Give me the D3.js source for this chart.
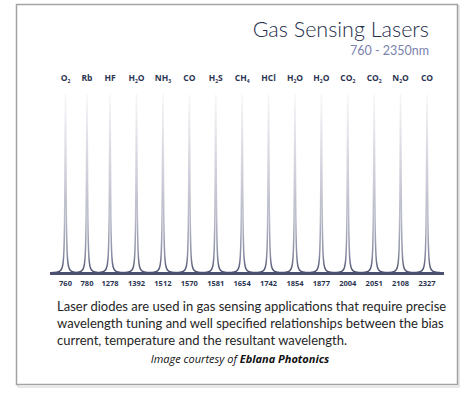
<!DOCTYPE html>
<meta charset="utf-8">
<style>
  body { margin: 0; background: #fff; }
  .gas { font-family: "Open Sans", sans-serif; font-weight: 700; font-size: 8.5px; fill: #2b3452; }
  .nm { font-family: "Open Sans", sans-serif; font-weight: 700; font-size: 7.5px; fill: #2b3452; }
  .title { font-family: Lato, sans-serif; font-weight: 300; font-size: 21.5px; fill: #252d4a; }
  .subtitle { font-family: Lato, sans-serif; font-weight: 400; font-size: 12.5px; fill: #7a82ad; }
  .para { font-family: Lato, sans-serif; font-size: 13px; fill: #262626; }
  .credit { font-family: "Open Sans", sans-serif; font-style: italic; font-size: 11px; fill: #111; }
</style>
<svg width="474" height="395"></svg>
<script src="https://d3js.org/d3.v7.min.js"></script>
<script>

  // chart data
  var gases = ["O2", "Rb", "HF", "H2O", "NH3", "CO", "H2S", "CH4", "HCl", "H2O", "H2O", "CO2", "CO2", "N2O", "CO"];
  var wavelengths = [760, 780, 1278, 1392, 1512, 1570, 1581, 1654, 1742, 1854, 1877, 2004, 2051, 2108, 2327];
  var peakHeights = [1, 1, 1, 1, 1, 1, 1, 1, 1, 1, 1, 1, 1, 1, 1];
  var title = "Gas Sensing Lasers";
  var subtitle = "760 - 2350nm";
  var paragraph = [
    "Laser diodes are used in gas sensing applications that require precise",
    "wavelength tuning and well specified relationships between the bias",
    "current, temperature and the resultant wavelength."
  ];

  var svg = d3.select("svg");

  // frame with a faint shadow
  svg.append("rect")
    .attr("x", 18).attr("y", 6).attr("width", 441).attr("height", 381)
    .attr("fill", "none").attr("stroke", "#e0e0e0").attr("stroke-width", 1.5);
  svg.append("rect")
    .attr("x", 16.5).attr("y", 4.5).attr("width", 441).attr("height", 380)
    .attr("fill", "#fff").attr("stroke", "#a3a3a3").attr("stroke-width", 1.5);

  // peaks are placed by index, the first few a bit tighter
  var x = d3.scaleLinear()
    .domain([0, 1, 2, 3, gases.length - 1])
    .range([65.5, 87, 110, 136.5, 427]);

  var y = d3.scaleLinear()
    .domain([0, 1])
    .range([273, 94]);

  // gradient for the peak strokes
  var grad = svg.append("defs").append("linearGradient")
    .attr("id", "peakGrad")
    .attr("gradientUnits", "userSpaceOnUse")
    .attr("x1", 0).attr("x2", 0).attr("y1", y(1)).attr("y2", y(0));
  grad.selectAll("stop")
    .data([[0, "#f8f8fa"], [0.3, "#dcdce4"], [0.7, "#b8bac8"], [0.9, "#8a8da3"], [1, "#454a68"]])
    .enter().append("stop")
    .attr("offset", d => d[0])
    .attr("stop-color", d => d[1]);

  // spectrum: narrow lorentzian line shape around each peak
  var gamma = 0.6;
  var xs = d3.range(50, 444.01, 0.05);
  var spectrum = xs.map(function (px) {
    var v = 0;
    peakHeights.forEach(function (h, i) {
      var dx = px - x(i);
      v = Math.max(v, h * gamma * gamma / (gamma * gamma + dx * dx));
    });
    return [px, v];
  });

  svg.append("path")
    .datum(spectrum)
    .attr("fill", "none")
    .attr("stroke", "url(#peakGrad)")
    .attr("stroke-width", 1.5)
    .attr("d", d3.line().x(d => d[0]).y(d => y(d[1])));

  // base line
  svg.append("line")
    .attr("x1", 50).attr("x2", 444)
    .attr("y1", y(0) + 0.5).attr("y2", y(0) + 0.5)
    .attr("stroke", "#4b5070").attr("stroke-width", 3);

  // gas labels with subscripted digits
  svg.append("g").selectAll("text")
    .data(gases)
    .enter().append("text")
    .attr("class", "gas")
    .attr("x", (d, i) => x(i))
    .attr("y", 81)
    .attr("text-anchor", "middle")
    .each(function (d) {
      var t = d3.select(this);
      d.match(/\d+|\D+/g).forEach(function (part) {
        var sp = t.append("tspan").text(part);
        if (/\d/.test(part)) {
          sp.attr("font-size", "5px").attr("dy", 1.5);
        } else {
          sp.attr("dy", t.selectAll("tspan").size() > 1 ? -1.5 : 0);
        }
      });
    });

  // wavelength labels
  svg.append("g").selectAll("text")
    .data(wavelengths)
    .enter().append("text")
    .attr("class", "nm")
    .attr("x", (d, i) => x(i))
    .attr("y", 286)
    .attr("text-anchor", "middle")
    .text(d => d);

  // titles
  svg.append("text").attr("class", "title")
    .attr("x", 429).attr("y", 37).attr("text-anchor", "end").text(title);
  svg.append("text").attr("class", "subtitle")
    .attr("x", 429).attr("y", 55).attr("text-anchor", "end").text(subtitle);

  // paragraph
  svg.append("g").selectAll("text")
    .data(paragraph)
    .enter().append("text")
    .attr("class", "para")
    .attr("x", 57)
    .attr("y", (d, i) => 311 + i * 17)
    .text(d => d);

  var credit = svg.append("text").attr("class", "credit")
    .attr("x", 240).attr("y", 363).attr("text-anchor", "middle");
  credit.append("tspan").text("Image courtesy of ");
  credit.append("tspan").attr("font-weight", 700).text("Eblana Photonics");

</script>
